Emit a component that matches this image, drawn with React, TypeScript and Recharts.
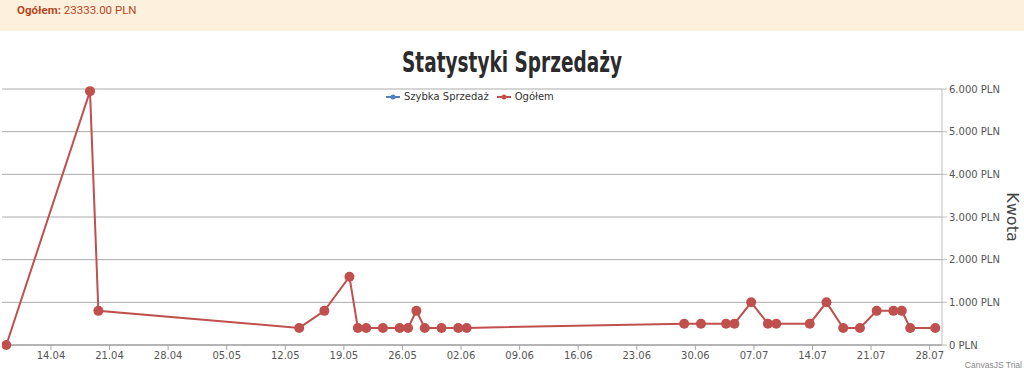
import React from 'react'
import { LineChart, Line, XAxis, YAxis, CartesianGrid } from 'recharts'

const YEAR = 2024
const POINT_HOUR = 16

const SALE_DATES = [
  '08.04', '18.04', '19.04', '13.05', '16.05', '19.05', '20.05', '21.05',
  '23.05', '25.05', '26.05', '27.05', '28.05', '30.05', '01.06', '02.06',
  '28.06', '30.06', '03.07', '04.07', '06.07', '08.07', '09.07', '13.07',
  '15.07', '17.07', '19.07', '21.07', '23.07', '24.07', '25.07', '28.07',
]
const TOTAL_VALUES = [
  0, 5950, 800, 400, 800, 1600, 400, 400,
  400, 400, 400, 800, 400, 400, 400, 400,
  500, 500, 500, 500, 1000, 500, 500, 500,
  1000, 400, 400, 800, 800, 800, 400, 400,
]
const X_TICKS = [
  '14.04', '21.04', '28.04', '05.05', '12.05', '19.05', '26.05', '02.06',
  '09.06', '16.06', '23.06', '30.06', '07.07', '14.07', '21.07', '28.07',
]
const Y_TICKS = [0, 1000, 2000, 3000, 4000, 5000, 6000]
const TOTAL_LABEL = '23333.00 PLN'

const SERIES = [
  { key: 'quick', name: 'Szybka Sprzedaż', color: '#4F81BC' },
  { key: 'total', name: 'Ogółem', color: '#C0504E' },
]

const AXIS_FONT = '"DejaVu Sans", Verdana, sans-serif'

function dayNum(s: string) {
  const [d, m] = s.split('.').map(Number)
  return Date.UTC(YEAR, m - 1, d) / 86400000
}

function fmtDay(v: number) {
  const dt = new Date(Math.round(v) * 86400000)
  const dd = String(dt.getUTCDate()).padStart(2, '0')
  const mm = String(dt.getUTCMonth() + 1).padStart(2, '0')
  return `${dd}.${mm}`
}

function fmtPln(v: number) {
  return String(v).replace(/\B(?=(\d{3})+(?!\d))/g, '.') + ' PLN'
}

const data = SALE_DATES.map((d, i) => ({
  t: dayNum(d) + POINT_HOUR / 24,
  total: TOTAL_VALUES[i],
}))

const xDomain = [dayNum('08.04') + 0.15, dayNum('29.07') + 0.47]

function LegendMark({ color }: { color: string }) {
  return (
    <svg width={14} height={8} style={{ marginRight: 4 }}>
      <line x1={0} y1={4} x2={14} y2={4} stroke={color} strokeWidth={2} />
      <circle cx={7} cy={4} r={2.5} fill={color} />
    </svg>
  )
}

export default function App() {
  return (
    <div style={{ position: 'relative', width: 1024, height: 375, background: '#fff', overflow: 'hidden' }}>
      <style>{'body{margin:0}'}</style>
      <div
        style={{
          position: 'absolute', left: 0, top: 0, width: 1024, height: 31,
          background: '#fdf0dc', fontFamily: 'Roboto, sans-serif', fontSize: 11.5,
          color: '#b4481e', lineHeight: '21px', zIndex: 2,
        }}
      >
        <span style={{ position: 'absolute', left: 17, top: 0 }}>
          <b>Ogółem:</b> {TOTAL_LABEL}
        </span>
      </div>

      <div
        style={{
          position: 'absolute', left: 0, top: 46, width: 1024, textAlign: 'center',
          fontFamily: '"DejaVu Sans", sans-serif', fontWeight: 900, fontSize: 28,
          color: '#2b2b2b', transform: 'scaleX(0.66)', transformOrigin: '512px 0', zIndex: 2,
        }}
      >
        Statystyki Sprzedaży
      </div>

      <div
        style={{
          position: 'absolute', left: 386, top: 91, display: 'flex', alignItems: 'center',
          fontFamily: AXIS_FONT, fontSize: 10, color: '#333', zIndex: 2,
        }}
      >
        {SERIES.map((s) => (
          <span key={s.key} style={{ display: 'flex', alignItems: 'center', marginRight: 8 }}>
            <LegendMark color={s.color} />
            {s.name}
          </span>
        ))}
      </div>

      <div
        style={{
          position: 'absolute', left: 1012, top: 217, transform: 'translate(-50%, -50%) rotate(90deg)',
          fontFamily: AXIS_FONT, fontSize: 16, color: '#444', whiteSpace: 'nowrap', zIndex: 2,
        }}
      >
        Kwota
      </div>

      <div
        style={{
          position: 'absolute', right: 2, top: 360, fontFamily: '"Liberation Sans", Arial, sans-serif',
          fontSize: 8.5, color: '#888', zIndex: 2,
        }}
      >
        CanvasJS Trial
      </div>

      <div style={{ position: 'absolute', left: 0, top: 0 }}>
        <LineChart width={1024} height={375} data={data} margin={{ top: 89, right: 2, bottom: 5, left: 2 }}>
          <CartesianGrid vertical={false} stroke="#ababab" />
          <XAxis
            dataKey="t"
            type="number"
            domain={xDomain}
            allowDataOverflow
            ticks={X_TICKS.map(dayNum)}
            tickFormatter={fmtDay}
            height={25}
            tickSize={5}
            axisLine={{ stroke: '#a8a8a8', strokeWidth: 1.5 }}
            tickLine={{ stroke: '#a8a8a8' }}
            tick={{ fontSize: 10, fill: '#555', fontFamily: AXIS_FONT }}
          />
          <YAxis
            orientation="right"
            width={80}
            domain={[0, 6000]}
            ticks={Y_TICKS}
            tickFormatter={fmtPln}
            tickSize={5}
            axisLine={{ stroke: '#bdbdbd' }}
            tickLine={{ stroke: '#bdbdbd' }}
            tick={{ fontSize: 10, fill: '#555', fontFamily: AXIS_FONT, textAnchor: 'start' }}
          />
          <Line
            dataKey="quick"
            name={SERIES[0].name}
            stroke={SERIES[0].color}
            strokeWidth={2}
            dot={false}
            isAnimationActive={false}
          />
          <Line
            type="linear"
            dataKey="total"
            name={SERIES[1].name}
            stroke={SERIES[1].color}
            strokeWidth={2}
            dot={{ r: 5, fill: SERIES[1].color, stroke: 'none' }}
            isAnimationActive={false}
          />
        </LineChart>
      </div>
    </div>
  )
}
